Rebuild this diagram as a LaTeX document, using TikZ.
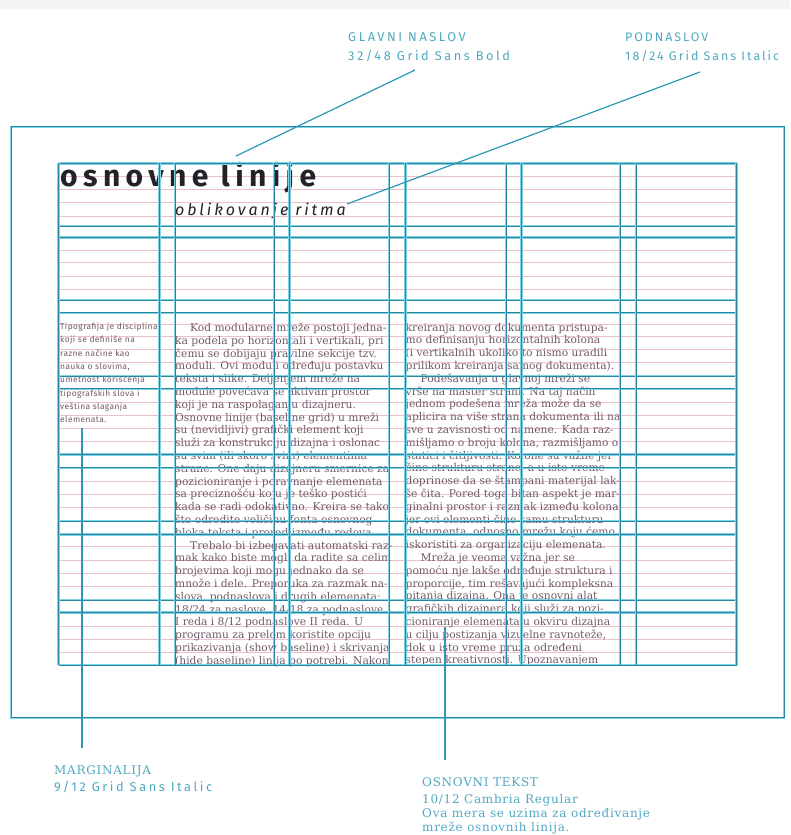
\documentclass[tikz,border=0pt]{standalone}
\usepackage{fontspec}
\setmainfont{DejaVu Serif}
\newfontfamily\titlefont[LetterSpace=18]{Fira Sans}
\newfontfamily\labelfont[LetterSpace=20]{Fira Sans}
\newfontfamily\labelfontn[LetterSpace=16]{Fira Sans}
\newfontfamily\bodyfont{DejaVu Serif}
\newfontfamily\capfont[LetterSpace=6]{DejaVu Serif}
\newfontfamily\margfont[LetterSpace=5]{Fira Sans}
\definecolor{gridcore}{RGB}{40,135,160}
\definecolor{gridglow}{RGB}{130,210,230}
\definecolor{basepink}{RGB}{236,190,206}
\definecolor{bodytext}{RGB}{112,88,104}
\definecolor{labelteal}{RGB}{80,168,194}
\definecolor{leader}{RGB}{45,150,180}
\definecolor{titleink}{RGB}{34,34,40}
\newcommand\colbox[1]{\vtop{\hsize=240pt\parindent=0pt\parskip=0pt\rightskip=0pt plus 1fil\relax\bodyfont\fontsize{10.7}{12.8}\selectfont\color{bodytext}#1}}
\newcommand\margbox[1]{\vtop{\hsize=120pt\parindent=0pt\parskip=0pt\rightskip=0pt plus 1fil\relax\margfont\fontsize{8.4}{13.3}\selectfont\color{bodytext}#1}}
\tikzset{
  glowline/.style={draw=gridglow, line width=2.4pt},
  coreline/.style={draw=gridcore, line width=0.9pt},
  pinkline/.style={draw=basepink, line width=0.7pt},
  leaderline/.style={draw=leader, line width=1.2pt},
  toplabel/.style={anchor=base west, inner sep=0pt, text=labelteal, font=\labelfont\fontsize{12.8}{15}\selectfont},
  toplabeln/.style={anchor=base west, inner sep=0pt, text=labelteal, font=\labelfontn\fontsize{12.4}{15}\selectfont},
  botlabel/.style={anchor=base west, inner sep=0pt, text=labelteal, font=\capfont\fontsize{12}{14}\selectfont},
}
\begin{document}
\begin{tikzpicture}[x=1pt,y=-1pt]
\useasboundingbox (0,0) rectangle (790,835);
\fill[black!4] (0,0) rectangle (790,9);
% baseline grid (pink)
\foreach \yy in {176.7,189.3,202.7,216,250,262.7,276,289.3,324,336,349.3,362.7,402.7,415,428.3,441.7,481,494.3,507.7,546.7,560,573.3,586.7,626,639.3,652.7}
  \draw[pinkline] (58.5,\yy) -- (736.5,\yy);
% title
\node[anchor=base west, inner sep=0pt, text=titleink, font=\titlefont\bfseries\fontsize{30}{32}\selectfont] (title) at (60,186.5) {osnovne linije};
\node[anchor=base west, inner sep=0pt, text=titleink, font=\titlefont\itshape\fontsize{16}{18}\selectfont] (subtitle) at (175,215) {oblikovanje ritma};
% marginal text
\node[anchor=base west, inner sep=0pt] (marg) at (60,323) {\margbox{Tipografija je disciplina\par koji se definiše na\par razne načine kao\par nauka o slovima,\par umetnost korišćenja\par tipografskih slova i\par veština slaganja\par elemenata.\par}};
% body column A
\node[anchor=base west, inner sep=0pt] (colA) at (175,323) {\colbox{%
\hspace*{15pt}Kod modularne mreže postoji jedna-\par
ka podela po horizontali i vertikali, pri\par
čemu se dobijaju pravilne sekcije tzv.\par
moduli. Ovi moduli određuju postavku\par
teksta i slike. Deljenjem mreže na\par
module povećava se aktivan prostor\par
koji je na raspolaganju dizajneru.\par
Osnovne linije (baseline grid) u mreži\par
su (nevidljivi) grafički element koji\par
služi za konstrukciju dizajna i oslonac\par
su svim (ili skoro svim) elementima\par
strane. One daju dizajneru smernice za\par
pozicioniranje i poravnanje elemenata\par
sa preciznošću koju je teško postići\par
kada se radi odokativno. Kreira se tako\par
što odredite veličinu fonta osnovnog\par
bloka teksta i prored između redova.\par
\hspace*{15pt}Trebalo bi izbegavati automatski raz-\par
mak kako biste mogli da radite sa celim\par
brojevima koji mogu jednako da se\par
množe i dele. Preporuka za razmak na-\par
slova, podnaslova i drugih elemenata:\par
18/24 za naslove, 14/18 za podnaslove\par
I reda i 8/12 podnaslove II reda. U\par
programu za prelom koristite opciju\par
prikazivanja (show baseline) i skrivanja\par
(hide baseline) linija po potrebi. Nakon\par}};
% body column B
\node[anchor=base west, inner sep=0pt] (colB) at (405.5,323) {\colbox{%
kreiranja novog dokumenta pristupa-\par
mo definisanju horizontalnih kolona\par
(i vertikalnih ukoliko to nismo uradili\par
prilikom kreiranja samog dokumenta).\par
\hspace*{15pt}Podešavanja u glavnoj mreži se\par
vrše na master strani. Na taj način\par
jednom podešena mreža može da se\par
aplicira na više strana dokumenta ili na\par
sve u zavisnosti od namene. Kada raz-\par
mišljamo o broju kolona, razmišljamo o\par
statici i čitljivosti. Kolone su važne jer\par
čine strukturu strane, a u isto vreme\par
doprinose da se štampani materijal lak-\par
še čita. Pored toga bitan aspekt je mar-\par
ginalni prostor i razmak između kolona\par
jer ovi elementi čine samu strukturu\par
dokumenta, odnosno mrežu koju ćemo\par
iskoristiti za organizaciju elemenata.\par
\hspace*{15pt}Mreža je veoma važna jer se\par
pomoću nje lakše određuje struktura i\par
proporcije, tim rešavajući kompleksna\par
pitanja dizajna. Ona je osnovni alat\par
grafičkih dizajnera koji služi za pozi-\par
cioniranje elemenata u okviru dizajna\par
u cilju postizanja vizuelne ravnoteže,\par
dok u isto vreme pruža određeni\par
stepen kreativnosti. Upoznavanjem\par}};
% module grid (teal)
\foreach \yy in {163.3,226,237.3,300,312.7,376,388.7,454.3,467.7,521,534.3,600,612.3,665} {
  \draw[glowline] (58.5,\yy) -- (736.5,\yy);
  \draw[coreline] (58.5,\yy) -- (736.5,\yy);
}
\foreach \xx in {58.5,159.5,175,274,289.5,389,405.5,506,521.5,620,636,736.5} {
  \draw[glowline] (\xx,163.3) -- (\xx,665);
  \draw[coreline] (\xx,163.3) -- (\xx,665);
}
% page frame
\draw[glowline] (11,126.7) rectangle (784,717.7);
\draw[coreline] (11,126.7) rectangle (784,717.7);
% top labels
\node[toplabel] (glavni) at (348,41.5) {GLAVNI NASLOV};
\node[toplabel] (glavniB) at (348,60) {32/48 Grid Sans Bold};
\node[toplabeln] (podnaslov) at (625,41.5) {PODNASLOV};
\node[toplabeln] (podnaslovB) at (625,60) {18/24 Grid Sans Italic};
\coordinate (gStart) at (415,70);
\coordinate (gEnd) at (236,156);
\coordinate (pStart) at (700,72);
\coordinate (pEnd) at (347,204);
\draw[leaderline] (gStart) -- (gEnd);
\draw[leaderline] (pStart) -- (pEnd);
% bottom labels
\node[botlabel] (margLab) at (54,774) {MARGINALIJA};
\node[toplabel] (margLabB) at (54,791.5) {9/12 Grid Sans Italic};
\node[botlabel] (osnLab) at (422,786) {OSNOVNI TEKST};
\node[botlabel] (osnB) at (422,803) {10/12 Cambria Regular};
\node[botlabel] (osnC) at (422,817) {Ova mera se uzima za određivanje};
\node[botlabel] (osnD) at (422,831) {mreže osnovnih linija.};
\coordinate (mTop) at (82,428);
\coordinate (mBot) at (82,748);
\coordinate (oTop) at (445,627);
\coordinate (oBot) at (445,760);
\draw[leaderline] (mTop) -- (mBot);
\draw[leaderline] (oTop) -- (oBot);
\end{tikzpicture}
\end{document}
